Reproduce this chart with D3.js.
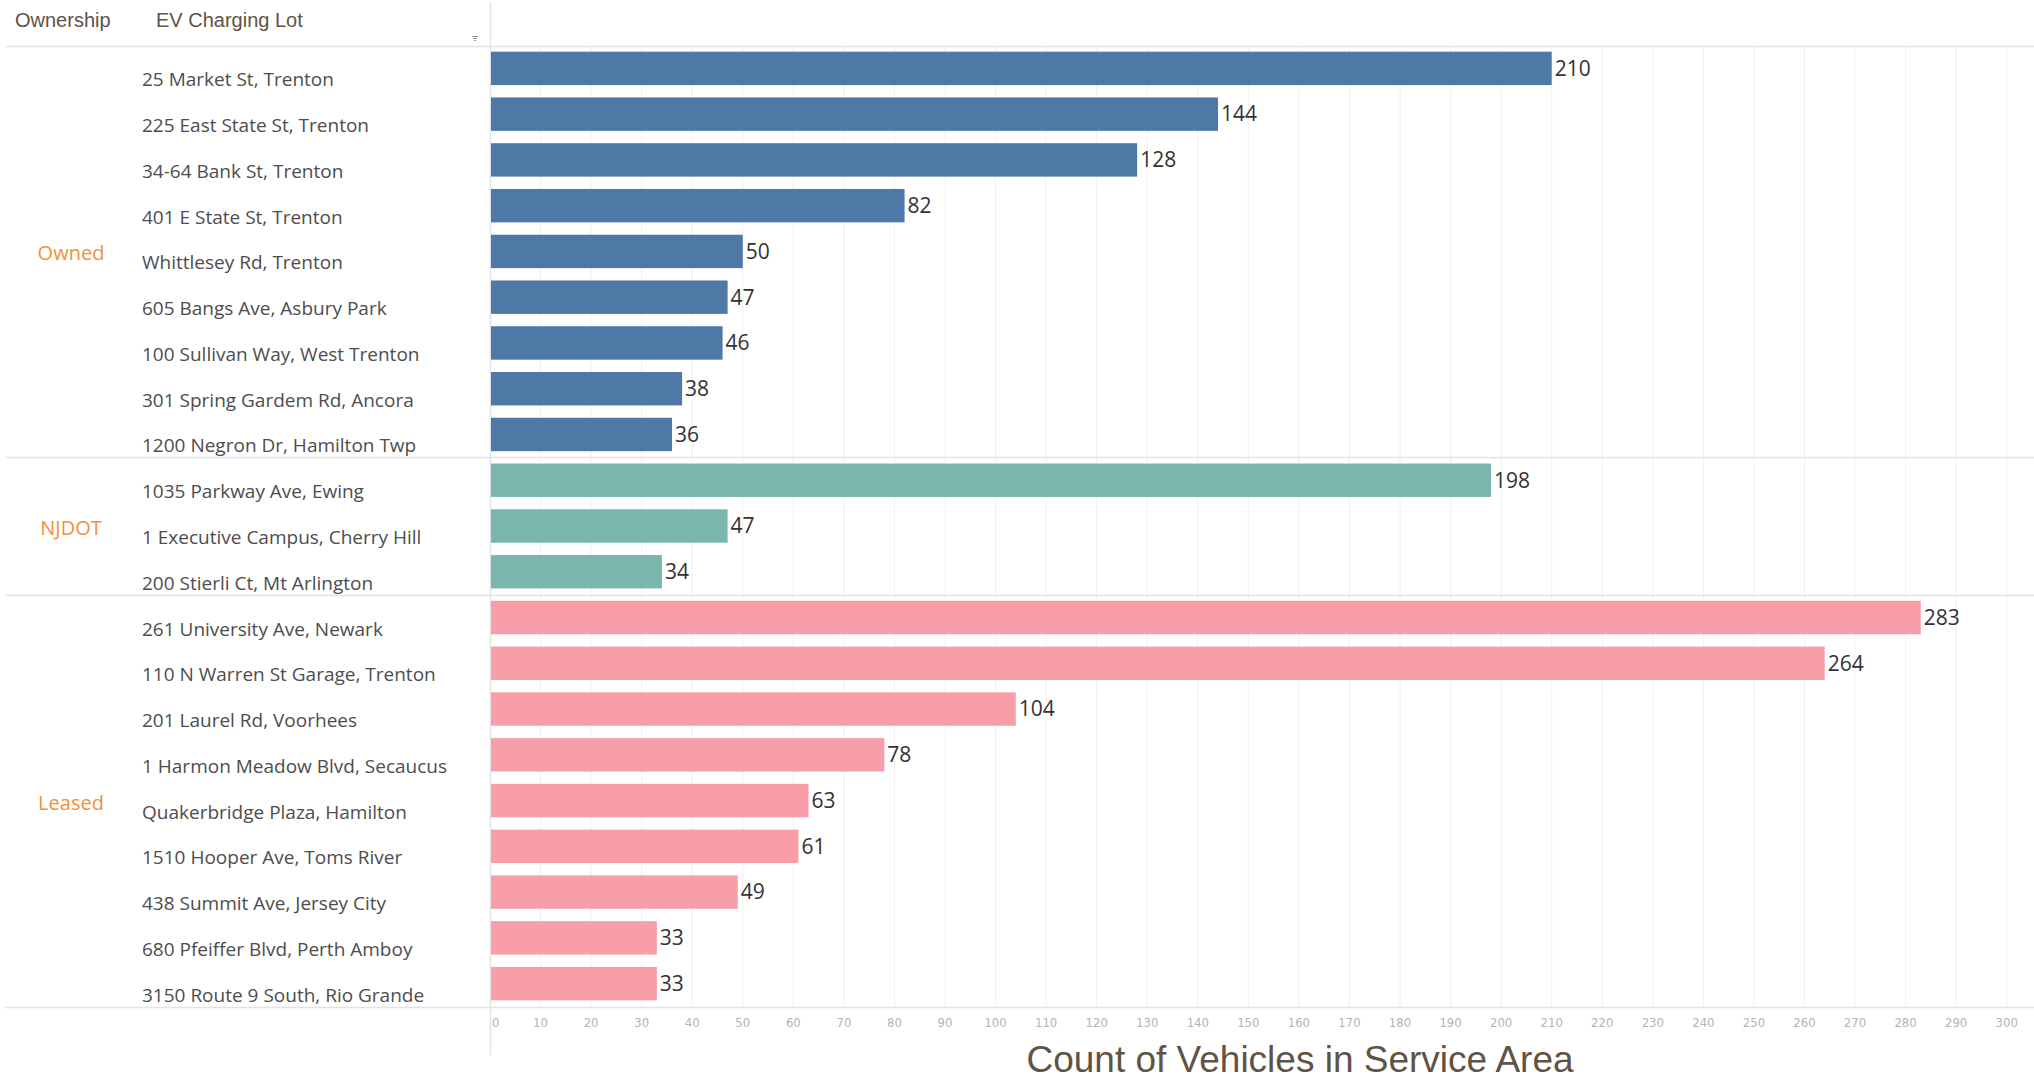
<!DOCTYPE html>
<html>
<head>
<meta charset="utf-8">
<script src="https://cdn.jsdelivr.net/npm/d3@7"></script>
<style>
  body { margin: 0; background: #fff; }
  svg { display: block; }
</style>
</head>
<body>
<svg id="chart"></svg>
<script>
const ownedLots = ["25 Market St, Trenton", "225 East State St, Trenton", "34-64 Bank St, Trenton",
    "401 E State St, Trenton", "Whittlesey Rd, Trenton", "605 Bangs Ave, Asbury Park",
    "100 Sullivan Way, West Trenton", "301 Spring Gardem Rd, Ancora", "1200 Negron Dr, Hamilton Twp"];
const ownedCounts = [210, 144, 128, 82, 50, 47, 46, 38, 36];

const njdotLots = ["1035 Parkway Ave, Ewing", "1 Executive Campus, Cherry Hill", "200 Stierli Ct, Mt Arlington"];
const njdotCounts = [198, 47, 34];

const leasedLots = ["261 University Ave, Newark", "110 N Warren St Garage, Trenton", "201 Laurel Rd, Voorhees",
    "1 Harmon Meadow Blvd, Secaucus", "Quakerbridge Plaza, Hamilton", "1510 Hooper Ave, Toms River",
    "438 Summit Ave, Jersey City", "680 Pfeiffer Blvd, Perth Amboy", "3150 Route 9 South, Rio Grande"];
const leasedCounts = [283, 264, 104, 78, 63, 61, 49, 33, 33];

const groups = ["Owned", "NJDOT", "Leased"];
const xTicks = d3.range(0, 301, 10);

const width = 2034, height = 1081;
const colors = { Owned: "#4e79a7", NJDOT: "#7ab5ae", Leased: "#f79ea8" };

// rows in display order
const rows = [];
[[ownedLots, ownedCounts, "Owned"], [njdotLots, njdotCounts, "NJDOT"], [leasedLots, leasedCounts, "Leased"]]
    .forEach(([lots, counts, g]) => {
        lots.forEach((lot, i) => rows.push({ group: g, lot: lot, count: counts[i] }));
    });

const svg = d3.select("#chart").attr("width", width).attr("height", height);

const plotTop = 45.5, plotBottom = 1006.5, axisX = 490;

const x = d3.scaleLinear().domain([0, 305.4]).range([axisX, width]);
const y = d3.scaleBand()
    .domain(rows.map(d => d.lot))
    .range([plotTop, plotBottom])
    .paddingInner(0.27)
    .paddingOuter(0.135);
const step = y.step();

// gridlines
svg.append("g")
    .selectAll("line")
    .data(xTicks.slice(1))
    .join("line")
    .attr("x1", d => x(d)).attr("x2", d => x(d))
    .attr("y1", plotTop).attr("y2", plotBottom)
    .attr("stroke", "#f0f0f0")
    .attr("stroke-width", 1);

// group separators + header / axis lines
const groupStart = {};
rows.forEach((d, i) => { if (!(d.group in groupStart)) groupStart[d.group] = i; });
const groupSize = g => rows.filter(d => d.group === g).length;

const hLines = [plotTop, ...groups.slice(1).map(g => plotTop + groupStart[g] * step), plotBottom];
svg.append("g")
    .selectAll("line")
    .data(hLines)
    .join("line")
    .attr("x1", 5).attr("x2", width)
    .attr("y1", d => Math.round(d) + 0.5).attr("y2", d => Math.round(d) + 0.5)
    .attr("stroke", "#e3e3e3")
    .attr("stroke-width", 1.5);

svg.append("line")
    .attr("x1", axisX + 0.5).attr("x2", axisX + 0.5)
    .attr("y1", 2).attr("y2", 1055)
    .attr("stroke", "#e3e3e3")
    .attr("stroke-width", 1.5);

// bars
svg.append("g")
    .selectAll("rect")
    .data(rows)
    .join("rect")
    .attr("x", x(0) + 1)
    .attr("y", d => y(d.lot))
    .attr("width", d => x(d.count) - x(0) - 1)
    .attr("height", y.bandwidth())
    .attr("fill", d => colors[d.group]);

// value labels
svg.append("g")
    .selectAll("text")
    .data(rows)
    .join("text")
    .attr("x", d => x(d.count) + 3)
    .attr("y", d => y(d.lot) + y.bandwidth() / 2)
    .attr("dy", "0.35em")
    .attr("font-family", "Open Sans, sans-serif")
    .attr("font-size", 21)
    .attr("fill", "#333")
    .text(d => d.count);

// row labels (bottom aligned like tableau)
svg.append("g")
    .selectAll("text")
    .data(rows)
    .join("text")
    .attr("x", 142)
    .attr("y", d => y(d.lot) + y.bandwidth() / 2 + 18)
    .attr("font-family", "Open Sans, sans-serif")
    .attr("font-size", 19)
    .attr("fill", "#4d4d4d")
    .text(d => d.lot);

// group labels
svg.append("g")
    .selectAll("text")
    .data(groups)
    .join("text")
    .attr("x", 71)
    .attr("y", g => plotTop + (groupStart[g] + groupSize(g) / 2) * step + 2)
    .attr("dy", "0.35em")
    .attr("text-anchor", "middle")
    .attr("font-family", "Open Sans, sans-serif")
    .attr("font-size", 20)
    .attr("fill", "#f0913a")
    .text(g => g);

// headers
const header = svg.append("g")
    .attr("font-family", "Liberation Sans, Arial, sans-serif")
    .attr("font-size", 20)
    .attr("fill", "#5f5346");
header.append("text").attr("x", 15).attr("y", 27).text("Ownership");
header.append("text").attr("x", 156).attr("y", 27).text("EV Charging Lot");

// little sort icon
svg.append("path")
    .attr("d", "M472,36.5h6M473,38.5h4M474,40.5h2")
    .attr("stroke", "#999")
    .attr("stroke-width", 1);

// x axis tick labels
svg.append("g")
    .selectAll("text")
    .data(xTicks)
    .join("text")
    .attr("x", d => d === 0 ? x(0) + 2 : x(d))
    .attr("y", 1022)
    .attr("dy", "0.35em")
    .attr("text-anchor", d => d === 0 ? "start" : "middle")
    .attr("font-family", "DejaVu Sans Condensed, Liberation Sans Narrow, sans-serif")
    .attr("font-size", 13)
    .attr("fill", "#b3b3b3")
    .text(d => d);

// axis title
svg.append("text")
    .attr("x", 1300)
    .attr("y", 1072)
    .attr("text-anchor", "middle")
    .attr("font-family", "Liberation Sans, Arial, sans-serif")
    .attr("font-size", 37)
    .attr("fill", "#5f5346")
    .text("Count of Vehicles in Service Area");
</script>
</body>
</html>
